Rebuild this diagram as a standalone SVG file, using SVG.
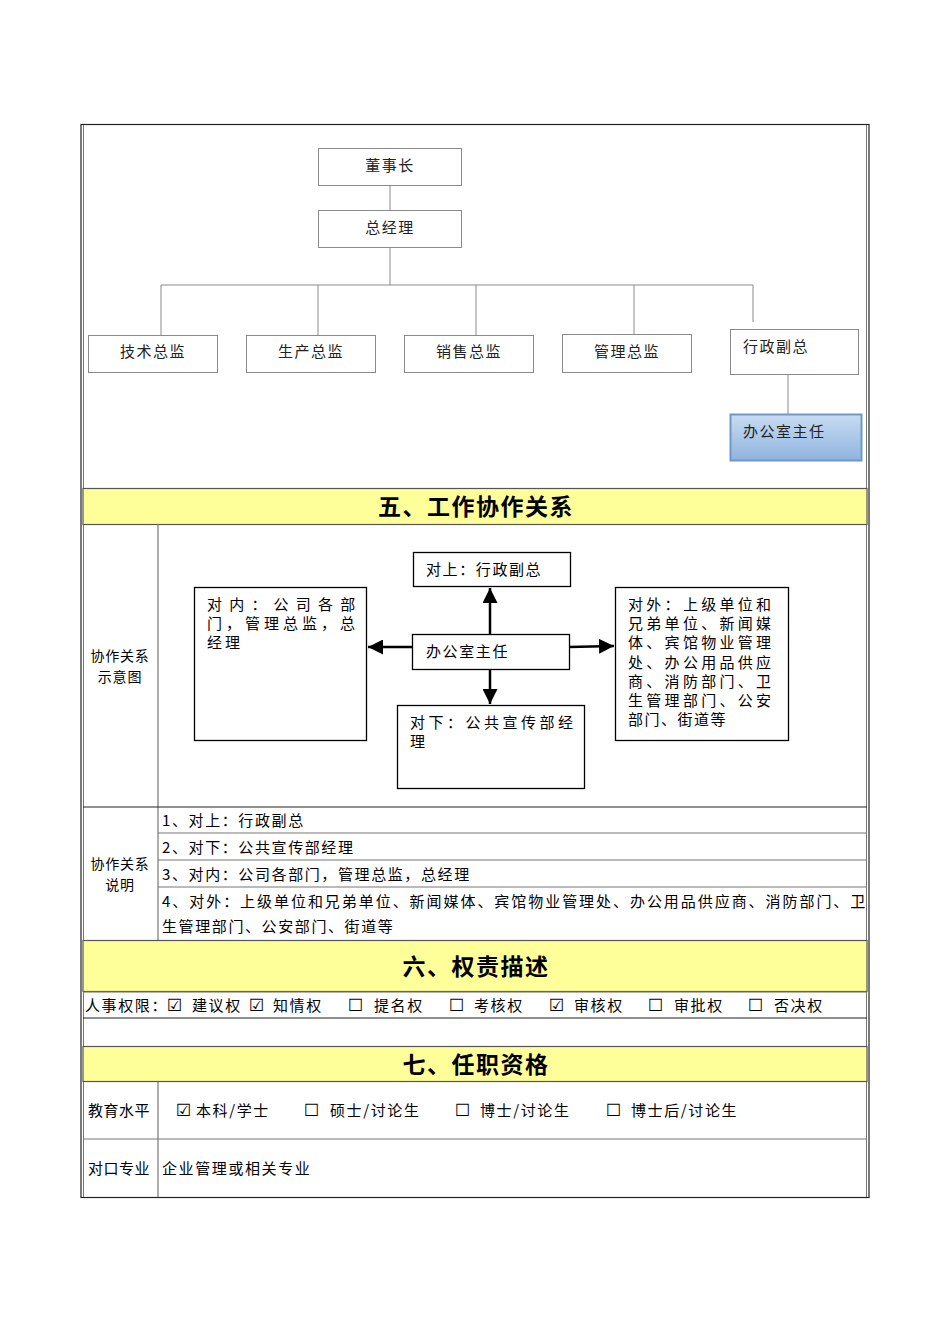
<svg xmlns="http://www.w3.org/2000/svg" width="950" height="1344" viewBox="0 0 950 1344">
<style>
text{font-family:"Noto Sans CJK SC","Noto Sans CJK JP",sans-serif;fill:#000;}
.t{font-size:15px;letter-spacing:1.6px;}
.lbl{font-size:14px;letter-spacing:0.8px;text-anchor:middle;}
.org{font-size:15px;letter-spacing:1.5px;fill:#222;}
.h{font-size:23px;font-weight:bold;letter-spacing:1.5px;text-anchor:middle;}
.box{fill:#fff;stroke:#8a8a8a;stroke-width:1;}
.dbox{fill:#fff;stroke:#000;stroke-width:1.3;}
.ln{stroke:#8a8a8a;stroke-width:1;fill:none;}
.grid{stroke:#777;stroke-width:1.2;fill:none;}
.dark{stroke:#222;stroke-width:1.2;fill:none;}
.yel{fill:#ffff99;stroke:#555;stroke-width:1.2;}
.arr{stroke:#000;stroke-width:2.5;fill:none;marker-end:url(#ah);}
.ck{font-family:"DejaVu Sans",sans-serif;font-size:17px;}
</style>
<defs>
<marker id="ah" viewBox="0 0 10 10" refX="10" refY="5" markerWidth="6" markerHeight="6" orient="auto" markerUnits="strokeWidth">
<path d="M0,0 L10,5 L0,10 z" fill="#000"/>
</marker>
<linearGradient id="bg" x1="0" y1="0" x2="0" y2="1">
<stop offset="0" stop-color="#c9dcf2"/>
<stop offset="1" stop-color="#8fb3de"/>
</linearGradient>
</defs>
<rect width="950" height="1344" fill="#fff"/>

<!-- outer frame -->
<g id="frame">
<rect x="81" y="124.5" width="788" height="1073" fill="none" stroke="#222" stroke-width="1.2"/>
<line x1="83.5" y1="125" x2="83.5" y2="1197" stroke="#777" stroke-width="1"/>
<line x1="866.5" y1="125" x2="866.5" y2="1197" stroke="#777" stroke-width="1"/>
</g>

<!-- org chart connectors -->
<g id="org-connectors">
<line class="ln" x1="390" y1="185" x2="390" y2="210"/>
<line class="ln" x1="390" y1="247" x2="390" y2="285"/>
<line class="ln" x1="161" y1="285" x2="753" y2="285"/>
<line class="ln" x1="161" y1="285" x2="161" y2="335"/>
<line class="ln" x1="318" y1="285" x2="318" y2="335"/>
<line class="ln" x1="476" y1="285" x2="476" y2="335"/>
<line class="ln" x1="634" y1="285" x2="634" y2="334"/>
<line class="ln" x1="753" y1="285" x2="753" y2="322"/>
<line class="ln" x1="788" y1="374" x2="788" y2="414"/>
</g>

<g id="n-dongshizhang"><rect class="box" x="318.5" y="148.5" width="143" height="37"/><text class="org" x="390" y="171" text-anchor="middle">董事长</text></g>
<g id="n-zongjingli"><rect class="box" x="318.5" y="210.5" width="143" height="37"/><text class="org" x="390" y="233" text-anchor="middle">总经理</text></g>
<g id="n-jishu"><rect class="box" x="88.5" y="335.5" width="129" height="37"/><text class="org" x="153" y="357" text-anchor="middle">技术总监</text></g>
<g id="n-shengchan"><rect class="box" x="246.5" y="335.5" width="129" height="37"/><text class="org" x="311" y="357" text-anchor="middle">生产总监</text></g>
<g id="n-xiaoshou"><rect class="box" x="404.5" y="335.5" width="129" height="37"/><text class="org" x="469" y="357" text-anchor="middle">销售总监</text></g>
<g id="n-guanli"><rect class="box" x="562.5" y="334.5" width="129" height="38"/><text class="org" x="627" y="357" text-anchor="middle">管理总监</text></g>
<g id="n-xingzheng"><rect class="box" x="730.5" y="329.5" width="128" height="45"/><text class="org" x="743" y="352">行政副总</text></g>
<g id="n-bangongshi"><rect x="730.5" y="414.5" width="131" height="46" fill="url(#bg)" stroke="#6f98c8" stroke-width="2"/><text class="org" x="743" y="437">办公室主任</text></g>

<!-- section 5 -->
<g id="sec5-header">
<rect class="yel" x="83" y="488.5" width="784" height="36"/>
<text class="h" x="476" y="515">五、工作协作关系</text>
</g>
<g id="table-lines">
<line class="grid" x1="158" y1="524" x2="158" y2="940"/>
<line class="dark" x1="83" y1="807" x2="867" y2="807"/>
<line class="grid" x1="158" y1="833" x2="867" y2="833"/>
<line class="grid" x1="158" y1="860" x2="867" y2="860"/>
<line class="grid" x1="158" y1="887" x2="867" y2="887"/>
<line class="dark" x1="83" y1="1018" x2="867" y2="1018"/>
<line class="grid" x1="83" y1="1139" x2="867" y2="1139"/>
<line class="grid" x1="158" y1="1082" x2="158" y2="1197"/>
</g>
<g id="label-shiyitu">
<text class="lbl"><tspan x="120" y="661">协作关系</tspan><tspan x="120" y="682">示意图</tspan></text>
</g>

<!-- collaboration diagram connectors -->
<g id="collab-connectors">
<line class="arr" x1="490" y1="634" x2="490" y2="588"/>
<line class="arr" x1="490" y1="669" x2="490" y2="704"/>
<line class="arr" x1="412" y1="647" x2="368" y2="647"/>
<line class="arr" x1="569" y1="647" x2="614" y2="646"/>
</g>
<g id="c-up"><rect class="dbox" x="413.5" y="552.5" width="157" height="34"/><text class="t" x="426" y="575">对上：行政副总</text></g>
<g id="c-center"><rect class="dbox" x="412.5" y="634.5" width="157" height="35"/><text class="t" x="426" y="657">办公室主任</text></g>
<g id="c-inner"><rect class="dbox" x="194.5" y="587.5" width="172" height="153"/>
<text class="t" x="207" y="610" style="letter-spacing:7.2px">对内：公司各部</text>
<text class="t" x="207" y="629" style="letter-spacing:4px">门，管理总监，总</text>
<text class="t" x="207" y="648" style="letter-spacing:3px">经理</text>
</g>
<g id="c-outer"><rect class="dbox" x="615.5" y="587.5" width="173" height="153"/>
<text class="t" x="628" y="610" style="letter-spacing:3.3px">对外：上级单位和</text>
<text class="t" x="628" y="629" style="letter-spacing:3.3px">兄弟单位、新闻媒</text>
<text class="t" x="628" y="648" style="letter-spacing:3.3px">体、宾馆物业管理</text>
<text class="t" x="628" y="668" style="letter-spacing:3.3px">处、办公用品供应</text>
<text class="t" x="628" y="687" style="letter-spacing:3.3px">商、消防部门、卫</text>
<text class="t" x="628" y="706" style="letter-spacing:3.3px">生管理部门、公安</text>
<text class="t" x="628" y="725" style="letter-spacing:1.5px">部门、街道等</text>
</g>
<g id="c-down"><rect class="dbox" x="397.5" y="705.5" width="187" height="83"/>
<text class="t" x="410" y="728" style="letter-spacing:3.5px">对下：公共宣传部经</text>
<text class="t" x="410" y="747">理</text>
</g>

<g id="shuoming">
<text class="lbl"><tspan x="120" y="869">协作关系</tspan><tspan x="120" y="890">说明</tspan></text>
<text class="t" x="162" y="826">1、对上：行政副总</text>
<text class="t" x="162" y="853">2、对下：公共宣传部经理</text>
<text class="t" x="162" y="880">3、对内：公司各部门，管理总监，总经理</text>
<text class="t" x="162" y="907" style="letter-spacing:1.95px">4、对外：上级单位和兄弟单位、新闻媒体、宾馆物业管理处、办公用品供应商、消防部门、卫</text>
<text class="t" x="162" y="932">生管理部门、公安部门、街道等</text>
</g>

<!-- section 6 -->
<g id="sec6-header">
<rect class="yel" x="83" y="940.5" width="784" height="51"/>
<text class="h" x="476" y="975">六、权责描述</text>
</g>
<line class="grid" x1="83" y1="992" x2="867" y2="992"/>
<g id="renshi">
<text class="t" x="85" y="1011">人事权限：</text>
<text class="ck" x="167" y="1011">☑</text><text class="t" x="192" y="1011">建议权</text>
<text class="ck" x="249" y="1011">☑</text><text class="t" x="273" y="1011">知情权</text>
<text class="ck" x="348" y="1011">☐</text><text class="t" x="374" y="1011">提名权</text>
<text class="ck" x="449" y="1011">☐</text><text class="t" x="474" y="1011">考核权</text>
<text class="ck" x="549" y="1011">☑</text><text class="t" x="574" y="1011">审核权</text>
<text class="ck" x="648" y="1011">☐</text><text class="t" x="674" y="1011">审批权</text>
<text class="ck" x="748" y="1011">☐</text><text class="t" x="774" y="1011">否决权</text>
</g>

<!-- section 7 -->
<g id="sec7-header">
<rect class="yel" x="83" y="1046.5" width="784" height="35"/>
<text class="h" x="476" y="1073">七、任职资格</text>
</g>
<g id="jiaoyu">
<text class="t" x="88" y="1116" style="letter-spacing:0.5px">教育水平</text>
<text class="ck" x="176" y="1116">☑</text><text class="t" x="196" y="1116">本科/学士</text>
<text class="ck" x="304" y="1116">☐</text><text class="t" x="330" y="1116">硕士/讨论生</text>
<text class="ck" x="455" y="1116">☐</text><text class="t" x="480" y="1116">博士/讨论生</text>
<text class="ck" x="606" y="1116">☐</text><text class="t" x="631" y="1116">博士后/讨论生</text>
</g>
<g id="zhuanye">
<text class="t" x="88" y="1174" style="letter-spacing:0.5px">对口专业</text>
<text class="t" x="162" y="1174">企业管理或相关专业</text>
</g>
</svg>
